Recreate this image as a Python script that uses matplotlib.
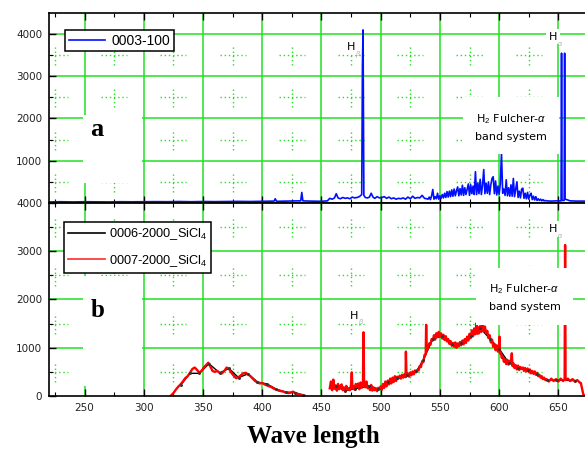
import numpy as np
import matplotlib
matplotlib.use("Agg")
import matplotlib.pyplot as plt
from matplotlib.lines import Line2D
from matplotlib.patches import Rectangle

plt.rcParams["font.family"] = ["DejaVu Sans"]
plt.rcParams["mathtext.fontset"] = "custom"
plt.rcParams["mathtext.rm"] = "Liberation Sans"
plt.rcParams["mathtext.it"] = "Liberation Sans:italic"

GRID_GREEN = "#22e022"
X_LIMITS = (220, 672.5)

# --- panel a: 0003-100 (blue) ---
blue_nm = [220, 230, 240, 250, 260, 270, 280, 290, 300, 310, 320, 330, 340, 350,
           360, 370, 380, 390, 400, 410, 411, 412, 420, 430, 432.5, 433.4, 434.3,
           440, 450, 455, 457, 459, 461, 462.5, 464, 466, 468, 470, 472, 474, 476,
           478, 480, 482, 484, 484.6, 485.1, 485.8, 487, 489, 490.5, 492, 493.5,
           495, 497, 499, 501, 503, 505, 507, 509, 511, 513, 515, 517, 519, 521,
           523, 525, 527, 529, 531, 533, 535, 537, 539,
           540, 541, 542, 543, 544, 545, 546, 547, 548, 549, 550, 551, 552, 553,
           554, 555, 556, 557, 558, 559, 560, 561, 562, 563, 564, 565, 566, 567,
           568, 569, 570, 571, 572, 573, 574, 575, 576, 577, 578, 579, 580, 581,
           582, 583, 584, 585, 586, 587, 588, 589, 590, 591, 592, 593, 594, 595,
           596, 597, 598, 599, 600, 601, 602, 603, 604, 605, 606, 607, 608, 609,
           610, 611, 612, 613, 614, 615, 616, 617, 618, 619, 620, 621, 622, 623,
           624, 625, 626, 627, 628, 629, 630, 631, 632, 633, 634, 635, 636, 637,
           638, 639, 640, 644, 648, 651, 652.3, 652.7, 653.1, 654.9, 655.3, 655.7,
           657, 660, 665, 672.5]
blue_cts = [25, 30, 25, 30, 28, 25, 30, 28, 30, 32, 30, 35, 30, 35,
            32, 35, 38, 35, 40, 45, 100, 40, 45, 50, 50, 250, 50,
            45, 40, 50, 110, 90, 120, 220, 120, 100, 130, 110, 120, 100, 140,
            120, 130, 150, 200, 3230, 4090, 180, 130, 120, 140, 230, 140,
            110, 150, 120, 130, 150, 110, 140, 100, 120, 90, 110, 100, 120, 90,
            140, 100, 160, 110, 130, 120, 180, 110, 100,
            90, 140, 80, 170, 320, 90, 150, 100, 230, 90, 170, 110, 200, 120,
            230, 130, 270, 140, 280, 150, 310, 160, 330, 170, 290, 380, 170, 340,
            190, 420, 180, 360, 200, 330, 450, 180, 430, 220, 400, 200, 740, 200,
            470, 220, 560, 200, 420, 790, 220, 470, 230, 500, 200, 430, 580, 620,
            220, 520, 190, 400, 210, 450, 1170, 230, 330, 180, 550, 170, 360, 160,
            430, 160, 580, 150, 320, 500, 130, 280, 120, 330, 350, 110, 230, 100,
            250, 90, 190, 230, 80, 160, 70, 150, 60, 100, 60, 90, 50, 80,
            50, 60, 50, 45, 50, 50, 50, 3540, 60, 60, 3540, 90,
            80, 50, 45, 45]

# --- panel b: 0007-2000_SiCl4 (red), the gap is left undrawn ---
red_nm = [323, 325, 327, 329, 331, 333, 335, 337, 339, 341, 343, 345, 347, 349,
          351, 353, 354.5, 356, 358, 360, 362, 364, 366, 368, 370, 372, 374, 376,
          378, 380, 382, 384, 386, 388, 390, 392, 394, 396, 398, 400, 402, 404,
          406, 408, 410, 412, 414, 416, 418, 420, 422, 424, 426, 428, 430, 432,
          434, 435.5, 446,
          457, 458, 459, 460, 461, 462, 463, 464, 465, 466, 467, 468, 469, 470,
          471, 472, 473, 474, 475, 475.6, 476.2, 477, 478, 479, 480, 481, 482,
          483, 484, 485, 485.5, 486, 487, 488, 489, 490, 491, 492, 493, 494, 495,
          496, 497, 498, 499, 500, 501, 502, 503, 504, 505, 506, 507, 508, 509,
          510, 511, 512, 513, 514, 515, 516, 517, 518, 519, 520, 521, 521.3,
          521.8, 523, 524, 525, 526, 527, 528, 529, 530, 531, 532, 533, 534, 535,
          536, 537, 538, 538.4, 538.9,
          540, 541, 542, 543, 544, 545, 546, 547, 548, 549, 550, 551, 552, 553,
          554, 555, 556, 557, 558, 559, 560, 561, 562, 563, 564, 565, 566, 567,
          568, 569, 570, 571, 572, 573, 574, 575, 576, 577, 578, 579, 580, 581,
          581.8, 582.5, 583, 584, 585, 586, 587, 588, 589, 590, 591, 592, 593,
          594, 595, 596, 597, 598, 599, 600, 600.3, 600.8, 601.5, 602.2, 603, 604,
          605, 606, 607, 608, 609, 610, 610.7, 611.3, 612, 613, 614, 615, 616,
          617, 618, 619, 620, 621, 622, 623, 624, 625, 626, 627, 628, 629, 630,
          631, 632, 633, 634, 635, 636, 637, 638, 639, 640,
          642, 644, 646, 648, 650, 652, 654, 655.3, 655.7, 656.1, 658,
          660, 662, 664, 666, 668, 669, 670, 671, 672]
red_cts = [10, 60, 130, 190, 240, 300, 370, 410, 480, 560, 590, 540, 480, 530,
           600, 650, 690, 620, 520, 500, 520, 480, 470, 520, 590, 560, 480, 420,
           370, 390, 430, 470, 480, 450, 410, 360, 310, 280, 260, 270, 240, 220,
           200, 180, 150, 130, 110, 100, 90, 70, 60, 70, 90, 60, 40, 30,
           20, 10, np.nan,
           160, 300, 120, 340, 150, 220, 110, 250, 140, 200, 240, 120, 180, 100,
           210, 130, 160, 120, 230, 490, 150, 200, 130, 250, 180, 260, 140,
           280, 170, 230, 1320, 250, 180, 300, 160, 200, 120, 230, 110, 180, 120,
           150, 100, 170, 140, 200, 130, 250, 170, 300, 200, 320, 240, 360, 260,
           380, 290, 410, 310, 400, 360, 420, 360, 440, 380, 450, 390, 920,
           410, 470, 400, 490, 430, 510, 450, 530, 490, 540, 530, 620, 600, 720,
           700, 850, 860, 1475, 930,
           1000, 1090, 1060, 1180, 1150, 1260, 1170, 1300, 1220, 1330, 1230, 1300, 1190, 1270,
           1160, 1240, 1130, 1180, 1080, 1140, 1040, 1100, 1020, 1110, 1000, 1090, 1030, 1120,
           1050, 1150, 1070, 1180, 1100, 1230, 1150, 1290, 1200, 1360, 1240, 1400, 1280, 1510,
           1290, 1420, 1300, 1450, 1330, 1470, 1340, 1440, 1300, 1350, 1200, 1260, 1110,
           1170, 1020, 1080, 950, 1050, 920, 1030, 1230, 880, 900, 790, 820, 710,
           760, 660, 750, 650, 730, 690, 885, 620, 680, 580, 640, 550, 630,
           540, 600, 560, 590, 520, 580, 510, 570, 500, 550, 470, 520, 460, 510,
           440, 480, 410, 440, 380, 410, 350, 380, 330, 350,
           300, 360, 310, 350, 300, 360, 310, 350, 3130, 330, 360,
           310, 350, 300, 330, 280, 270, 150, 40, 0]

# --- panel b: 0006-2000_SiCl4 (black), nearly identical run ---
black_nm = [331, 339, 347, 355, 364, 372, 380, 388, 396, 404, 412, 420, 428, 434, 446,
            462, 470, 478, 490, 498, 506, 514, 522, 530, 536, 544, 552, 560, 568,
            576, 584, 592, 600, 608, 616, 624, 632, 640, 648, 664]
black_cts = [220, 470, 470, 670, 480, 570, 380, 460, 290, 250, 140, 80, 70, 20, np.nan,
             200, 110, 150, 200, 150, 280, 380, 430, 510, 740, 1190, 1240, 1070, 1090,
             1240, 1410, 1190, 980, 690, 590, 540, 460, 330, 330, 320]

a_yticks = [1000, 2000, 3000, 4000]
b_yticks = [0, 1000, 2000, 3000, 4000]
x_ticks = [250, 300, 350, 400, 450, 500, 550, 600, 650]

fig = plt.figure(figsize=(5.85, 4.5), dpi=100)
ax_a = fig.add_axes([0.0838, 0.5489, 0.9162, 0.4222])
ax_b = fig.add_axes([0.0838, 0.12, 0.9162, 0.4289], sharex=ax_a)


def style_panel(ax, ymax, yticks, cross_dy):
    ax.set_xlim(*X_LIMITS)
    ax.set_ylim(0, ymax)
    ax.set_xticks(x_ticks)
    ax.set_xticks([t + 25 for t in [200] + x_ticks[:-1]], minor=True)
    ax.set_yticks(yticks)
    ax.set_yticks([500, 1500, 2500, 3500], minor=True)
    ax.tick_params(which="both", direction="in", top=True, right=False,
                   colors="black", labelcolor="#222222", labelsize=7.5, pad=5)
    ax.tick_params(which="major", length=5, width=1)
    ax.tick_params(which="minor", length=3, width=0.8)
    for s in ax.spines.values():
        s.set_linewidth(1.2)
    ax.spines["right"].set_visible(False)
    # solid major grid
    for xv in x_ticks:
        ax.axvline(xv, color=GRID_GREEN, lw=1.1, zorder=0.5)
    for yv in range(1000, int(ymax) + 1, 1000):
        ax.axhline(yv, color=GRID_GREEN, lw=1.1, zorder=0.5)
    # dotted crosses at minor intersections
    for xm in range(225, 675, 50):
        for ym in [500, 1500, 2500, 3500]:
            ax.plot([xm - 11, xm + 11], [ym, ym], color=GRID_GREEN, lw=1,
                    ls=(0, (1, 2)), zorder=0.6)
            ax.plot([xm, xm], [ym - cross_dy, ym + cross_dy], color=GRID_GREEN,
                    lw=1, ls=(0, (1, 2)), zorder=0.6)


def h_label(ax, x, y, sub):
    ax.text(x, y, "H", fontsize=8, ha="left", va="center", zorder=4,
            bbox=dict(facecolor="white", edgecolor="none", pad=2))
    ax.annotate(sub, (x, y), xytext=(6, -5), textcoords="offset points",
                fontsize=5, color="#aaaaaa", ha="left", va="center", zorder=4)


style_panel(ax_a, 4490, a_yticks, 240)
style_panel(ax_b, 4000, b_yticks, 210)
ax_a.tick_params(labelbottom=False)

legend_style = dict(loc="upper left", borderaxespad=0, fancybox=False,
                    framealpha=1, edgecolor="black")

# panel a
ax_a.add_patch(Rectangle((0.063, 0.105), 0.11, 0.36, transform=ax_a.transAxes,
                         facecolor="white", edgecolor="none", zorder=0.8))
ax_a.plot(blue_nm, blue_cts, color="#0010ff", lw=1.2, zorder=2)
ax_a.text(260.5, 1730, "a", fontsize=19, fontweight="bold",
          family="Liberation Serif", ha="center", va="center", zorder=3)
h_label(ax_a, 471.4, 3680, r"$\beta$")
h_label(ax_a, 641.6, 3930, r"$\alpha$")
ax_a.text(610, 1800, "H$_2$ Fulcher-$\\alpha$\nband system", fontsize=8,
          ha="center", va="center", linespacing=1.8, zorder=3,
          bbox=dict(facecolor="white", edgecolor="none", pad=9))
leg_a = ax_a.legend([Line2D([], [], color="#0010ff", lw=1.2)], ["0003-100"],
                    bbox_to_anchor=(0.03, 0.91), handlelength=2.6,
                    handletextpad=0.5, borderpad=0.25,
                    prop={"family": "Liberation Sans", "size": 10},
                    **legend_style)
leg_a.get_frame().set_linewidth(1.1)
leg_a.set_zorder(5)

# panel b
ax_b.add_patch(Rectangle((0.063, 0.05), 0.11, 0.57, transform=ax_b.transAxes,
                         facecolor="white", edgecolor="none", zorder=0.8))
ax_b.plot(black_nm, black_cts, color="black", lw=1.0, zorder=1.9)
ax_b.plot(red_nm, red_cts, color="#ff0000", lw=1.7, zorder=2)
ax_b.plot(black_nm, black_cts, ls="", marker=".", ms=2.2, color="#333333",
          zorder=2.1)
ax_b.text(261, 1780, "b", fontsize=18, fontweight="bold",
          family="Liberation Serif", ha="center", va="center", zorder=3)
h_label(ax_b, 473.6, 1660, r"$\beta$")
h_label(ax_b, 641.6, 3465, r"$\alpha$")
ax_b.text(621.5, 2050, "H$_2$ Fulcher-$\\alpha$\nband system", fontsize=8,
          ha="center", va="center", linespacing=1.8, zorder=3,
          bbox=dict(facecolor="white", edgecolor="none", pad=9))
leg_b = ax_b.legend([Line2D([], [], color="black", lw=1.2),
                     Line2D([], [], color="#ff2a2a", lw=1.2)],
                    ["0006-2000_SiCl$_4$", "0007-2000_SiCl$_4$"],
                    bbox_to_anchor=(0.028, 0.90), handlelength=2.9,
                    handletextpad=0.3, borderpad=0.3, labelspacing=0.85,
                    prop={"family": "Liberation Sans", "size": 9.2},
                    **legend_style)
leg_b.get_frame().set_linewidth(1.1)
leg_b.set_zorder(5)

fig.text(0.535, 0.03, "Wave length", fontsize=18, fontweight="bold",
         family="Liberation Serif", ha="center", va="center")

fig.savefig("out.png", dpi=100)
